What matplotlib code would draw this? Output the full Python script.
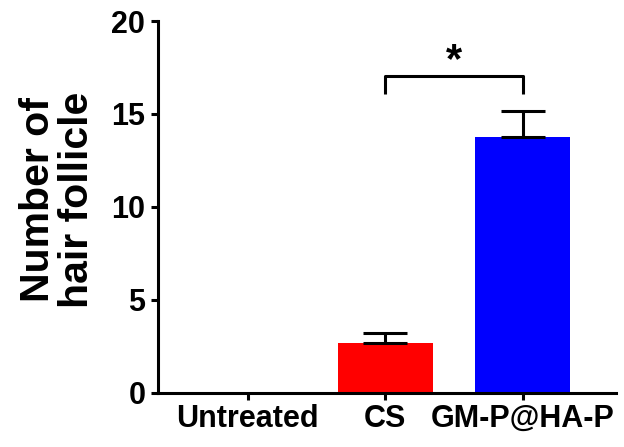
import numpy as np
import matplotlib.pyplot as plt

plt.rcParams['font.family'] = ['Liberation Sans', 'DejaVu Sans']
plt.rcParams['font.weight'] = 'bold'

groups = ["Untreated", "CS", "GM-P@HA-P"]
means = [0.0, 2.7, 13.75]
errs = [0.0, 0.5, 1.4]
colors = ["#FF0000", "#FF0000", "#0000FF"]

fig = plt.figure(figsize=(6.24, 4.47), dpi=100)
ax = fig.add_axes([0.253, 0.121, 0.734, 0.832])

x = np.arange(len(groups))
ax.bar(x, means, width=0.69, color=colors, edgecolor='none', zorder=2)
ax.errorbar(x[1:], means[1:], yerr=[[0, 0], errs[1:]], fmt='none',
            ecolor='black', elinewidth=2.2, capsize=16, capthick=2.2, zorder=3)

# significance bracket between CS and GM-P@HA-P
y_br, y_end = 17.05, 16.1
ax.plot([x[1], x[1], x[2], x[2]], [y_end, y_br, y_br, y_end],
        color='black', lw=2.2, solid_capstyle='butt', clip_on=False)
ax.text((x[1] + x[2]) / 2, 17.85, "*", ha='center', va='center',
        fontsize=30, fontweight='bold')

ax.set_xlim(-0.655, 2.677)
ax.set_ylim(0, 20)
ax.set_yticks([0, 5, 10, 15, 20])
ax.set_xticks(x)
ax.set_xticklabels(groups)
ax.tick_params(axis='both', width=2.2, length=5, labelsize=22, direction='out')
ax.tick_params(axis='y', pad=4)
ax.tick_params(axis='x', pad=3)
for lab in ax.get_xticklabels() + ax.get_yticklabels():
    lab.set_fontweight('bold')

for s in ['top', 'right']:
    ax.spines[s].set_visible(False)
for s in ['left', 'bottom']:
    ax.spines[s].set_linewidth(2.2)

ax.set_ylabel("Number of\nhair follicle", fontsize=29.5, fontweight='bold',
              linespacing=1.05)
ax.yaxis.set_label_coords(-0.135, 0.519)

fig.savefig("out.png", dpi=100)
